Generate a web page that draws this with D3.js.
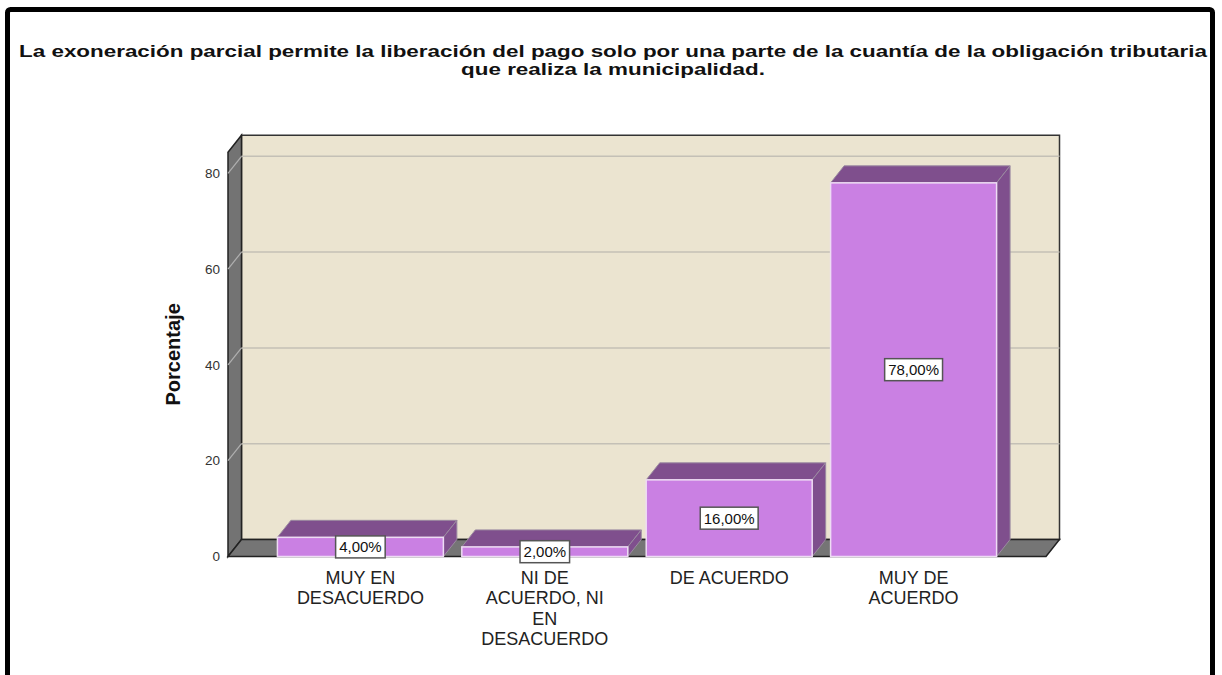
<!DOCTYPE html>
<html>
<head>
<meta charset="utf-8">
<script src="https://cdn.jsdelivr.net/npm/d3@7"></script>
<style>
  html, body { margin: 0; padding: 0; background: #fff; }
  svg { display: block; }
</style>
</head>
<body>
<svg id="chart" width="1222" height="675"></svg>
<script>
// data
const categories = ["MUY EN DESACUERDO", "NI DE ACUERDO, NI EN DESACUERDO", "DE ACUERDO", "MUY DE ACUERDO"];
const categoryLines = [["MUY EN", "DESACUERDO"], ["NI DE", "ACUERDO, NI", "EN", "DESACUERDO"], ["DE ACUERDO"], ["MUY DE", "ACUERDO"]];
const percents = [4, 2, 16, 78];
const valueLabels = ["4,00%", "2,00%", "16,00%", "78,00%"];
const yTicks = [0, 20, 40, 60, 80];
const titleLines = ["La exoneración parcial permite la liberación del pago solo por una parte de la cuantía de la obligación tributaria",
                    "que realiza la municipalidad."];
const yTitle = "Porcentaje";

var svg = d3.select("#chart");

// depth of the fake 3d box
const dx = 13.5, dy = 17;

var x = d3.scaleBand().domain(categories).range([228, 1046]).paddingInner(0.1).paddingOuter(0.268);
var y = d3.scaleLinear().domain([0, 84.4]).range([556.5, 152.2]);

const x0 = x.range()[0], x1 = x.range()[1];
const yTop = y.range()[1], yBot = y.range()[0];

function poly(pts){ return "M" + pts.map(p => p.join(",")).join("L") + "Z"; }

// outer frame
svg.append("rect")
  .attr("x", 7.5).attr("y", 9.5).attr("width", 1205).attr("height", 700)
  .attr("rx", 3).attr("fill", "none").attr("stroke", "#000").attr("stroke-width", 5);

// title, stretched to the source width
var title = svg.append("g").attr("transform", "translate(613,0)");
var tl = title.selectAll("text").data(titleLines).join("text")
  .attr("x", 0).attr("y", (d, i) => 57 + i * 18)
  .attr("text-anchor", "middle")
  .style("font-family", "Liberation Sans, Arial, sans-serif")
  .style("font-weight", "bold").style("font-size", "16px").attr("fill", "#111")
  .text(d => d);
var natural = tl.nodes()[0].getComputedTextLength();
tl.attr("transform", "scale(" + (1188 / natural) + ",1)");

// back wall
svg.append("path")
  .attr("d", poly([[x0 + dx, yTop - dy], [x1 + dx, yTop - dy], [x1 + dx, yBot - dy], [x0 + dx, yBot - dy]]))
  .attr("fill", "#ebe4d0").attr("stroke", "#333").attr("stroke-width", 1.5);

// left wall
svg.append("path")
  .attr("d", poly([[x0, yTop], [x0 + dx, yTop - dy], [x0 + dx, yBot - dy], [x0, yBot]]))
  .attr("fill", "#737373").attr("stroke", "#222").attr("stroke-width", 1.5);

// floor
svg.append("path")
  .attr("d", poly([[x0, yBot], [x0 + dx, yBot - dy], [x1 + dx, yBot - dy], [x1, yBot]]))
  .attr("fill", "#757575").attr("stroke", "#222").attr("stroke-width", 1.5);

// gridlines on back wall and left wall
var grid = svg.append("g");
yTicks.filter(t => t > 0).forEach(function(t){
  grid.append("line")
    .attr("x1", x0 + dx).attr("x2", x1 + dx)
    .attr("y1", y(t) - dy).attr("y2", y(t) - dy)
    .attr("stroke", "#c4c0b6").attr("stroke-width", 1.5);
  grid.append("line")
    .attr("x1", x0).attr("x2", x0 + dx)
    .attr("y1", y(t)).attr("y2", y(t) - dy)
    .attr("stroke", "#b0b0b0").attr("stroke-width", 1.2);
});

// y tick labels
svg.append("g").selectAll("text").data(yTicks).join("text")
  .attr("x", 220).attr("y", d => y(d))
  .attr("dy", "0.35em").attr("text-anchor", "end")
  .style("font-family", "Liberation Sans, Arial, sans-serif").style("font-size", "13.5px")
  .attr("fill", "#333").text(d => d);

// y title
svg.append("text")
  .attr("transform", "translate(180," + ((yTop + yBot) / 2) + ") rotate(-90)")
  .attr("text-anchor", "middle")
  .style("font-family", "Liberation Sans, Arial, sans-serif")
  .style("font-weight", "bold").style("font-size", "20px")
  .attr("fill", "#111").text(yTitle);

// bars
var bars = svg.append("g").selectAll("g").data(categories).join("g");
bars.each(function(c, i){
  var g = d3.select(this);
  var bx = x(c), bw = x.bandwidth(), top = y(percents[i]);
  g.append("path")
    .attr("d", poly([[bx, top], [bx + dx, top - dy], [bx + bw + dx, top - dy], [bx + bw, top]]))
    .attr("fill", "#7f4f8d").attr("stroke", "#9a8aa0").attr("stroke-width", 1);
  g.append("path")
    .attr("d", poly([[bx + bw, top], [bx + bw + dx, top - dy], [bx + bw + dx, yBot - dy], [bx + bw, yBot]]))
    .attr("fill", "#7f4f8d").attr("stroke", "#9a8aa0").attr("stroke-width", 1);
  g.append("rect")
    .attr("x", bx).attr("y", top).attr("width", bw).attr("height", yBot - top)
    .attr("fill", "#ca80e3").attr("stroke", "#eedcf4").attr("stroke-width", 1.5);
});

// value labels
var vl = svg.append("g").selectAll("g").data(categories).join("g")
  .attr("transform", (c, i) => "translate(" + (x(c) + x.bandwidth() / 2) + "," + ((y(percents[i]) + yBot) / 2) + ")");
vl.append("text")
  .attr("text-anchor", "middle").attr("dy", "0.36em")
  .style("font-family", "Liberation Sans, Arial, sans-serif").style("font-size", "15px")
  .attr("fill", "#111").text((c, i) => valueLabels[i]);
vl.each(function(){
  var g = d3.select(this);
  var w = g.select("text").node().getComputedTextLength() + 7;
  g.insert("rect", "text")
    .attr("x", -w / 2).attr("y", -11).attr("width", w).attr("height", 22)
    .attr("fill", "#fff").attr("stroke", "#555").attr("stroke-width", 1.5);
});

// category labels
var cl = svg.append("g").selectAll("text").data(categories).join("text")
  .attr("text-anchor", "middle")
  .style("font-family", "Liberation Sans, Arial, sans-serif").style("font-size", "18px")
  .attr("fill", "#222");
cl.each(function(c, i){
  d3.select(this).selectAll("tspan").data(categoryLines[i]).join("tspan")
    .attr("x", x(c) + x.bandwidth() / 2)
    .attr("y", (d, j) => 584 + j * 20.3)
    .text(d => d);
});
</script>
</body>
</html>
